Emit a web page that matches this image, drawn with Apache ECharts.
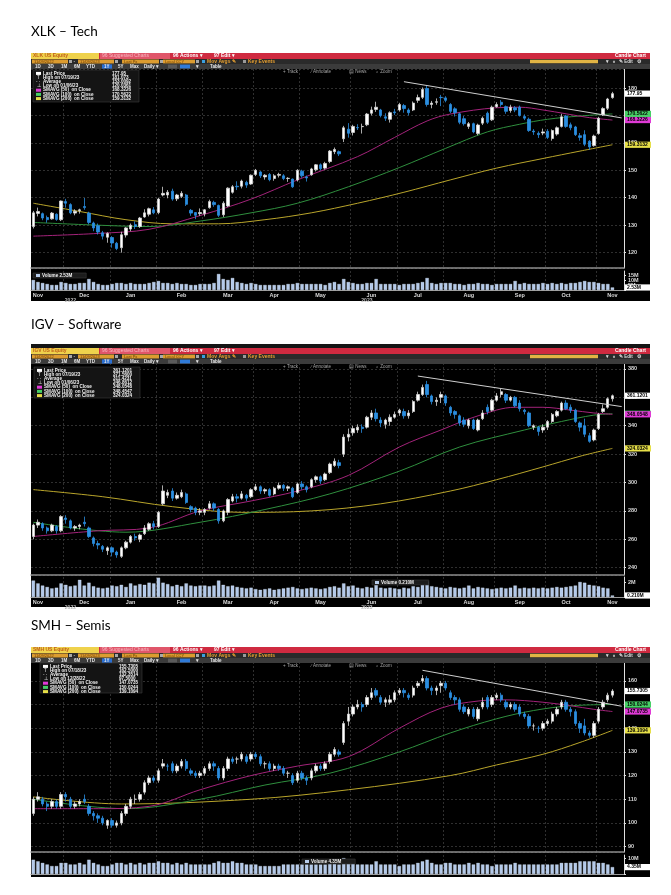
<!DOCTYPE html>
<html>
<head>
<meta charset="utf-8">
<title>XLK / IGV / SMH</title>
<script src="https://cdn.jsdelivr.net/npm/echarts@6/dist/echarts.min.js"></script>
<style>
  html, body { margin: 0; padding: 0; background: #fff; }
  #chart { width: 671px; height: 895px; }
</style>
</head>
<body>
<div id="chart"></div>
<script>
// one candle = 2 trading days, 10 Nov 2022 .. 9 Nov 2023 (126 candles, 2 empty slots on the right)
const slots = 128;
const monthNames = ['Nov', 'Dec', 'Jan', 'Feb', 'Mar', 'Apr', 'May', 'Jun', 'Jul', 'Aug', 'Sep', 'Oct', 'Nov'];
const monthLabelIdx = [1, 11, 21, 32, 42, 52, 62, 73, 83, 94, 105, 115, 125];
const monthStartIdx = [7, 17, 27, 37, 48, 58, 69, 79, 89, 100, 111, 122];
const yearNames = ['2022', '2023'];
const yearLabelIdx = [8, 72];

// ---- XLK  [open, close, low, high]
const xlkCandles = [
  [129.5,134.5,128.8,135.2],[134.3,135.0,133.2,136.4],[134.2,132.6,131.8,134.6],[132.8,132.0,130.9,133.5],[132.3,134.4,132.0,134.8],[134.0,132.1,131.6,134.3],[132.0,138.8,131.5,139.0],
  [138.6,138.0,136.4,139.6],[137.5,134.5,134.0,138.0],[134.4,135.1,133.6,135.8],[135.3,135.6,134.2,136.0],[136.8,136.4,135.6,139.9],[134.4,131.0,130.3,134.9],[130.8,129.0,127.8,131.3],[129.8,127.5,126.6,130.6],[127.2,126.0,124.8,127.9],[125.6,127.0,123.6,127.4],
  [125.5,123.5,121.8,126.0],[123.4,121.5,120.9,123.9],[121.8,126.5,120.0,127.6],[126.4,129.0,125.5,129.3],[128.6,130.0,127.8,130.6],[130.2,129.5,128.6,131.4],[129.5,132.6,129.0,133.0],[133.0,134.5,132.7,135.8],[134.0,136.0,133.2,136.4],[135.6,134.5,134.0,136.6],
  [134.6,139.5,134.0,140.0],[141.0,141.6,140.5,144.0],[141.0,142.0,139.8,142.8],[142.4,139.5,138.9,143.3],[139.6,141.0,138.8,141.4],[140.5,141.6,139.9,142.4],[141.0,137.6,137.0,141.4],[135.4,134.4,133.4,135.9],[134.6,133.6,132.2,134.8],[134.2,134.6,133.4,136.1],
  [134.2,135.6,133.2,135.9],[136.4,138.6,136.0,139.3],[138.3,137.5,136.7,138.9],[137.2,133.6,133.0,137.5],[133.8,138.0,133.0,138.7],[137.0,143.5,136.6,143.8],[142.0,144.0,141.5,144.6],[144.2,144.0,142.8,146.0],[144.2,146.1,143.4,146.6],[145.6,144.6,143.6,146.2],[145.0,148.2,144.7,148.5],
  [148.5,150.0,147.9,150.5],[149.4,148.0,147.2,149.7],[147.6,148.2,146.6,148.6],[148.5,146.6,146.0,149.0],[147.0,148.0,146.2,148.6],[148.2,148.5,147.4,149.1],[148.0,147.0,146.4,148.6],[147.0,147.1,145.8,147.5],[146.8,144.0,143.6,147.0],[146.5,150.0,145.9,150.4],
  [149.7,148.0,147.3,150.2],[147.6,147.2,145.9,148.1],[148.4,150.5,148.0,150.9],[150.2,152.0,149.6,152.3],[152.0,150.6,150.0,152.5],[150.8,152.5,150.3,153.1],[153.2,157.0,152.6,157.4],[156.8,157.6,155.9,158.3],[156.8,156.0,155.2,157.2],[161.5,165.5,160.3,166.2],[165.0,163.5,161.9,167.2],
  [163.8,166.0,162.7,166.6],[165.6,165.5,164.7,166.8],[165.9,166.0,163.4,167.0],[166.6,170.5,166.1,170.9],[170.8,172.0,170.0,173.2],[172.2,173.0,171.3,175.0],[172.0,170.0,169.3,172.4],[169.5,169.0,168.0,170.8],[168.6,171.0,167.4,171.5],[171.3,171.0,170.2,172.4],
  [172.0,174.0,171.4,174.6],[173.6,172.5,171.0,174.2],[172.0,171.0,170.0,172.6],[172.0,174.5,171.6,175.1],[175.5,176.5,174.6,177.6],[176.6,179.5,176.0,180.2],[179.8,174.0,173.2,181.1],[174.0,174.5,172.6,175.3],[174.8,175.0,173.9,176.2],[176.6,176.5,173.4,177.5],
  [176.4,175.5,174.8,177.0],[174.0,171.5,170.8,174.5],[172.4,171.0,169.6,173.0],[170.6,167.5,166.8,171.0],[168.8,167.0,166.3,169.8],[166.0,167.0,165.1,167.6],[167.0,164.0,163.5,167.4],[163.4,166.5,162.8,167.0],[167.2,169.0,166.5,169.6],[170.8,167.5,166.9,171.4],[168.4,173.0,168.0,173.6],
  [173.2,174.0,172.8,174.8],[174.8,174.0,173.2,175.6],[173.2,171.5,170.6,173.6],[171.8,173.0,171.0,173.9],[172.8,172.0,171.2,173.4],[173.0,170.0,169.6,173.6],[169.6,169.0,168.3,170.4],[168.6,164.5,164.0,169.2],[164.3,164.0,162.9,165.0],[163.5,163.0,161.8,164.2],
  [163.6,164.0,162.8,165.2],[164.2,162.0,161.4,165.0],[161.6,164.5,160.8,164.9],[163.2,165.5,162.6,166.0],[166.0,169.5,165.6,170.6],[169.8,166.0,165.5,170.2],[166.6,165.5,164.6,167.4],[165.8,163.0,162.5,166.2],[162.6,162.0,160.8,163.6],[163.0,159.5,158.8,164.6],[160.6,158.5,157.4,161.0],
  [159.0,162.5,158.6,163.0],[163.4,169.0,163.0,169.5],[170.2,172.5,169.8,173.0],[172.6,176.0,172.0,176.4],[176.5,177.95,176.1,178.6]
];
const xlkVolume = [
  10,8,7,6,5,5,8,
  7,6,6,7,7,11,8,6,5,5,
  6,7,7,6,7,6,6,6,7,8,
  9,7,7,6,7,6,6,5,5,6,
  6,6,7,16,11,10,12,8,7,6,7,
  6,5,5,5,5,5,5,6,6,7,
  6,6,6,6,6,5,7,8,6,11,8,
  7,6,6,7,7,11,6,6,6,6,
  5,6,6,6,7,8,12,7,6,7,
  7,7,6,6,5,6,6,7,6,6,5,
  6,6,6,6,9,6,7,6,6,6,
  7,6,7,6,7,6,7,7,8,9,8,
  8,7,6,6,2.53
];
const xlkSma50 = [[0,126],[14,127],[25,128.5],[36,133.5],[47,139.5],[57,146.5],[70,155],[78,162],[85,168],[90,170.5],[100,172.8],[105,173],[110,172],[115,170.6],[120,169.2],[125,168.3226]];
const xlkSma100 = [[0,131],[14,130],[25,129.5],[36,131.5],[47,134.5],[57,138],[68,144],[79,151],[89,158],[98,164],[105,166.8],[111,168.6],[118,169.8],[125,170.5622]];
const xlkSma200 = [[0,138],[10,135],[20,132],[30,130.5],[40,130.5],[50,132],[60,134.5],[70,138],[80,142],[90,146.5],[100,150.8],[110,154.3],[118,157],[125,159.3132]];
const xlkTrend = [[80,182.3],[127,169.1]];
const xlkLegendNames = ['Last Price', 'High on 07/19/23', 'Average', 'Low on 01/06/23', 'SMAVG (50)  on Close', 'SMAVG (100)  on Close', 'SMAVG (200)  on Close'];
const xlkLegendValues = ['177.95', '181.073', '153.0092', '120.0361', '168.3226', '170.5622', '159.3132'];

// ---- IGV
const igvCandles = [
  [262,270,260,271],[270,272,268,274],[271,268,266,272],[268,266,264,269],[266,270,265,271],[269,266,264,270],[266,276,265,277],
  [275,274,271,277],[273,268,267,274],[268,269,266,270],[269,270,267,271],[272,271,269,276],[268,262,261,269],[261,257,255,262],[257,256,253,259],[255,253,251,256],[252,254,249,255],
  [254,251,248,255],[251,249,247,252],[248,254,246.9,255],[254,258,253,259],[258,262,257,263],[262,261,259,264],[260,263,258,264],[264,268,263,270],[267,271,266,272],[271,269,267,273],
  [269,279,268,280],[285,294,284,298],[291,293,289,295],[294,289,287,296],[289,291,288,293],[290,293,289,295],[292,286,285,293],[283,281,279,284],[282,279,277,283],[279,280,277,282],
  [279,281,277,282],[282,285,281,287],[285,282,280,286],[281,273,271,282],[273,280,272,281],[279,288,277,289],[287,290,286,292],[290,289,286,292],[289,292,288,294],[291,289,287,292],[290,295,289,296],
  [295,297,294,299],[297,294,292,298],[294,295,292,296],[295,291,290,296],[292,296,291,297],[296,298,295,300],[298,296,294,299],[296,297,294,298],[296,290,289,297],[293,299,292,300],
  [299,297,295,301],[297,295,293,298],[297,302,296,303],[302,304,300,305],[304,301,299,305],[302,306,301,307],[307,313,306,314],[312,315,311,317],[314,312,310,316],[320,332,318,334],[332,334,329,338],
  [335,338,333,340],[337,339,335,341],[339,338,335,341],[339,346,338,347],[346,349,344,351],[349,345,343,352],[344,342,339,346],[341,344,338,345],[343,346,340,348],[346,348,345,350],
  [349,351,347,352],[350,347,345,352],[347,349,345,351],[350,357,349,358],[358,362,357,364],[362,367,361,369],[369,362,360,371.6],[361,357,355,362],[357,358,354,360],[360,362,356,364],
  [361,356,354,362],[353,349,347,354],[350,348,345,351],[347,342,340,348],[344,341,339,346],[340,344,338,345],[344,338,337,345],[337,344,336,345],[345,349,344,351],[353,350,348,355],[351,358,350,359],
  [358,361,357,363],[362,364,360,366],[362,358,356,363],[358,360,357,361],[360,354,353,361],[356,352,350,358],[351,350,348,352],[349,340,339,350],[339,340,337,341],[339,336,333,340],
  [337,339,335,341],[339,343,337,344],[343,348,342,349],[347,350,346,351],[351,356,350,357],[356,352,351,358],[353,351,349,355],[351,343,342,352],[342,339,336,343],[340,334,332,345],[333,329,328,335],
  [330,337,329,338],[338,348,337,349],[350,352,349,355],[353,359,352,360],[359,361.12,357,362]
];
const igvVolume = [
  2.3,1.9,1.6,1.4,1.2,1.3,1.9,
  1.7,1.5,1.6,2.4,1.6,2.0,1.5,1.3,1.2,1.3,
  1.6,1.5,1.7,1.4,1.9,1.6,1.8,1.7,2.0,1.9,
  2.7,2.0,1.8,1.5,1.7,1.5,1.9,1.6,1.5,1.6,
  1.6,1.5,1.6,2.3,1.7,1.5,1.6,1.4,1.3,1.2,1.3,
  1.1,1.0,1.1,1.2,1.0,1.1,1.2,1.3,1.4,1.2,
  1.1,1.2,1.3,1.2,1.1,1.2,1.4,1.5,1.3,1.9,1.5,
  1.6,1.3,1.2,1.4,1.3,1.7,1.3,1.2,1.3,1.2,
  1.1,1.3,1.2,1.5,1.4,1.9,2.2,1.5,1.4,1.3,
  1.2,1.4,1.3,1.2,1.3,1.6,1.2,1.4,1.3,1.2,1.1,
  1.2,1.3,1.2,1.3,1.6,1.2,1.3,1.2,1.3,1.2,
  1.3,1.2,1.3,1.4,1.3,1.4,1.5,1.6,2.1,2.0,1.7,
  1.6,1.5,1.3,1.2,0.21
];
const igvSma50 = [[0,262],[14,266],[25,268],[36,280],[47,287],[57,294],[68,305],[79,325],[88,337],[96,347],[104,353],[110,353],[116,351],[121,349],[125,348.0548]];
const igvSma100 = [[0,272],[20,265],[36,272],[50,281],[64,292],[79,308],[92,325],[106,337],[114,343],[121,347.5],[125,348.4547]];
const igvSma200 = [[0,295],[15,290],[30,283],[45,279],[60,280],[75,285],[90,294],[100,302],[110,311],[118,318.5],[125,324.0324]];
const igvTrend = [[83,375],[127,353.5]];
const igvLegendNames = ['Last Price', 'High on 07/19/23', 'Average', 'Low on 01/06/23', 'SMAVG (50)  on Close', 'SMAVG (100)  on Close', 'SMAVG (200)  on Close'];
const igvLegendValues = ['361.1201', '371.5600', '311.4231', '246.8612', '348.0548', '348.4547', '324.0324'];

// ---- SMH
const smhCandles = [
  [104,110,103,111],[110,111,109,113],[110,108,107,111],[108,107,105,109],[107,109,106,110],[109,107,106,110],[107,112,106,113],
  [112,111,109,113],[110,107,106,111],[107,108,106,109],[108,109,107,110],[110,109,108,112],[107,104,103,108],[104,103,101,105],[103,102,100,104],[102,100,99,103],[99,101,97.5,101.5],
  [101,99,98,102],[99,100,98,101],[100,104,99,105],[104,107,103,108],[107,110,106,111],[110,110,108,112],[110,112,109,113],[113,117,112,118],[117,119,116,120],[119,118,117,120],
  [118,122,117,123],[124,125,123,127],[124,124,122,125],[125,122,121,126],[122,124,121,125],[124,126,123,127],[126,123,122,127],[122,121,120,123],[121,120,119,122],[120,121,119,122],
  [121,123,120,124],[123,125,122,126],[125,124,122,126],[123,119,118,124],[119,123,118,124],[123,127,122,128],[127,126,125,128],[127,127,125,128],[127,129,126,130],[128,126,125,129],[127,129,126,130],
  [129,128,127,130],[128,125,124,129],[125,125,123,126],[125,123,122,126],[123,124,122,125],[124,123,122,125],[123,121,120,124],[121,121,119,122],[120,117,116,121],[118,121,117,122],
  [121,119,118,122],[119,118,116,120],[119,122,118,123],[122,124,121,125],[124,123,122,125],[123,125,122,126],[126,129,125,130],[129,131,128,132],[130,129,128,131],[134,142,133,143],[143,146,141,149],
  [146,149,145,150],[149,150,148,152],[150,149,147,151],[150,153,149,154],[153,155,152,157],[156,154,153,157],[153,151,150,154],[151,152,149,153],[151,152,150,154],[152,155,151,156],
  [155,156,154,157],[156,155,153,157],[154,153,152,155],[154,157,153,158],[158,159,157,160],[160,161,159,162.5],[161,157,156,162],[157,156,154,158],[156,157,154,158],[158,159,155,160],
  [159,157,156,160],[155,153,152,156],[153,152,150,154],[152,148,147,153],[149,147,146,150],[146,148,145,149],[148,145,144,149],[144,148,143,149],[149,151,148,153],[153,149,148,154],[150,153,149,154],
  [153,154,152,155],[154,152,151,155],[151,149,148,152],[149,150,148,151],[150,148,147,151],[149,146,145,150],[146,145,144,147],[145,141,140,146],[141,141,139,142],[140,140,138,141],
  [140,142,139,143],[142,143,141,144],[143,146,142,147],[146,148,145,149],[149,151,148,152],[151,148,147,152],[148,147,145,149],[147,142,141,148],[142,140,138,143],[141,138,137,144],[138,137,136,139],
  [137,142,136,143],[143,148,142,149],[149,151,148,152],[152,154,151,155],[154,155.73,153,156.5]
];
const smhVolume = [
  9,8,7,6,5,5,7,
  7,6,6,7,6,9,7,6,5,5,
  6,7,7,6,7,6,7,6,7,7,
  8,7,7,6,7,6,7,6,6,6,
  6,6,7,8,7,7,8,7,7,6,6,
  6,5,5,5,5,5,6,6,6,6,
  6,6,6,6,6,6,7,7,6,10,8,
  7,6,6,6,6,8,6,6,6,6,
  5,6,6,6,7,8,9,7,6,6,
  7,7,6,6,6,7,6,7,6,6,5,
  6,6,6,6,7,6,6,6,6,6,
  6,6,6,6,7,7,7,7,8,8,8,
  8,7,7,6,4.35
];
const smhSma50 = [[0,106],[14,106],[25,107],[36,114],[47,120],[57,124],[68,128],[79,140],[88,148.5],[96,151.5],[102,152],[110,151],[116,149.5],[121,148],[125,147.0735]];
const smhSma100 = [[0,110],[20,106],[36,110],[50,116],[64,121],[79,130],[90,138],[100,144],[108,147.5],[116,149.5],[125,150.0244]];
const smhSma200 = [[0,111],[19,108],[47,110],[68,114],[90,120],[100,124.5],[110,129],[118,134],[125,139.1094]];
const smhTrend = [[84,164.5],[127,149.3]];
const smhLegendNames = ['Last Price', 'High on 07/18/23', 'Average', 'Low on 12/28/22', 'SMAVG (50)  on Close', 'SMAVG (100)  on Close', 'SMAVG (200)  on Close'];
const smhLegendValues = ['155.7305', '162.5000', '132.3514', '97.5000', '147.0735', '150.0244', '139.1094'];

// ---- layout of the three Bloomberg windows
const panels = [
  { title: 'XLK – Tech', titleTop: 25, ticker: 'XLK', head: 53, priceTop: 69, priceH: 199, volTop: 271, volH: 19, bottom: 301,
    yMin: 114.39, yMax: 186.93, ySplit: 7, volMax: 19, volStep: 5, dates: true,
    legendBox: [33, 70, 106, 32], volLegend: [33, 273, 'Volume 2.53M'], volBox: '2.53M',
    candles: xlkCandles, vol: xlkVolume, sma50: xlkSma50, sma100: xlkSma100, sma200: xlkSma200, trend: xlkTrend,
    names: xlkLegendNames, values: xlkLegendValues },
  { title: 'IGV – Software', titleTop: 318, ticker: 'IGV', head: 348, strip: true, priceTop: 363, priceH: 212, volTop: 577, volH: 20, bottom: 607,
    yMin: 234.86, yMax: 384.2, ySplit: 7, volMax: 2.8, volStep: 2, dates: true,
    legendBox: [34, 367, 106, 31], volLegend: [372, 580, 'Volume 0.210M'], volBox: '0.210M',
    candles: igvCandles, vol: igvVolume, sma50: igvSma50, sma100: igvSma100, sma200: igvSma200, trend: igvTrend,
    names: igvLegendNames, values: igvLegendValues },
  { title: 'SMH – Semis', titleTop: 619, ticker: 'SMH', head: 647, priceTop: 662, priceH: 190, volTop: 855, volH: 19, bottom: 877,
    yMin: 87.7, yMax: 168.0, ySplit: 8, volMax: 12, volStep: 5, dates: false,
    legendBox: [40, 663, 102, 30], volLegend: [302, 859, 'Volume 4.35M'], volBox: '4.35M',
    candles: smhCandles, vol: smhVolume, sma50: smhSma50, sma100: smhSma100, sma200: smhSma200, trend: smhTrend,
    names: smhLegendNames, values: smhLegendValues }
];

const UP = '#ffffff', DOWN = '#2b8ee0';
const SMA50 = '#a3237a', SMA100 = '#2f8f3e', SMA200 = '#b9a52b';
const BOX50 = '#e03ad6', BOX100 = '#46d066', BOX200 = '#e6df48';
const FONT = 'Liberation Sans';
const cats = Array.from({ length: slots }, (_, i) => String(i));

function txt(x, y, text, fill, size, o) {
  o = o || {};
  return {
    type: 'text', x: x, y: y, z: o.z || 110,
    style: {
      text: text, fill: fill, fontSize: size, fontFamily: FONT,
      fontWeight: o.bold ? 'bold' : 'normal',
      align: o.align || 'left', textAlign: o.align || 'left',
      verticalAlign: 'middle', textVerticalAlign: 'middle'
    }
  };
}
function rect(x, y, w, h, fill, z, stroke) {
  return {
    type: 'rect', z: z === undefined ? 105 : z,
    shape: { x: x, y: y, width: w, height: h },
    style: { fill: fill, stroke: stroke || null, lineWidth: stroke ? 0.6 : 0 }
  };
}

// window chrome: header bars, buttons, legend boxes
function chrome(p) {
  const y = p.head, g = [];
  g.push(rect(31, y + 16, 619, p.bottom - y - 16, '#000', -100));
  if (p.strip) g.push(rect(31, y - 4, 619, 4, '#141414', 104));
  // red title bar
  g.push(rect(31, y, 619, 6, '#cf2a40'));
  g.push(rect(31, y, 68, 6, '#efd24c', 106));
  g.push(txt(33, y + 3, p.ticker + ' US Equity', '#c0601a', 5, { bold: true }));
  g.push(rect(100, y, 70, 6, '#e0566a', 106));
  g.push(txt(102, y + 3, '96 Suggested Charts', '#f7b8c0', 5));
  g.push(txt(173, y + 3, '96 Actions \u25BE', '#ffffff', 5, { bold: true }));
  g.push(txt(214, y + 3, '97 Edit \u25BE', '#ffffff', 5, { bold: true }));
  g.push(txt(646, y + 3, 'Candle Chart', '#ffffff', 5, { bold: true, align: 'right' }));
  // second row: inputs
  g.push(rect(31, y + 6, 619, 5, '#2a2a2a'));
  [[32, 36, '11/09/2022'], [78, 36, '11/09/2023'], [122, 37, 'Last Px'], [163, 32, 'Local CCY']].forEach(b => {
    g.push(rect(b[0], y + 6.6, b[1], 3.8, '#dc9c30', 106));
    g.push(txt(b[0] + 2, y + 8.5, b[2], '#6a3a00', 4, { z: 111 }));
    g.push(rect(b[0] + b[1] + 1, y + 7, 3, 3, '#a8a8a8', 106));
  });
  g.push(txt(73.5, y + 8.5, '-', '#dddddd', 5));
  g.push(rect(202, y + 7, 3, 3, '#3aa0e0', 106));
  g.push(txt(207, y + 8.5, 'Mov Avgs \u270E', '#e8a030', 5, { bold: true }));
  g.push(rect(243, y + 7, 3, 3, '#9a9a9a', 106));
  g.push(txt(248, y + 8.5, 'Key Events', '#e8a030', 5, { bold: true }));
  g.push(rect(530, y + 6.7, 68, 3.6, '#e2b444', 106));
  g.push(txt(606, y + 8.5, '\u25BE   \u00AB   \u270E Edit   \u2699', '#dddddd', 4.5, { bold: true }));
  // third row: ranges
  g.push(rect(31, y + 11, 619, 5, '#3b3b3b'));
  g.push(rect(102, y + 11.4, 10, 4.2, '#2a6fd2', 106));
  g.push(rect(168, y + 11.6, 9, 3.8, '#5a5a5a', 106));
  g.push(rect(180, y + 11.6, 10, 3.8, '#2f7ad8', 106));
  [[35, '1D'], [48, '3D'], [61, '1M'], [74, '6M'], [86, 'YTD'], [104, '1Y'], [118, '5Y'], [130, 'Max'], [144, 'Daily \u25BE'], [196, '\u25BE'], [210, 'Table']].forEach(b => {
    g.push(txt(b[0], y + 13.5, b[1], '#e6e6e6', 4.5, { bold: true }));
  });
  // annotate row
  [[283, '+ Track'], [311, '\u2215 Annotate'], [349, '\u25A4 News'], [376, '\u2315 Zoom']].forEach(b => {
    g.push(txt(b[0], y + 19, b[1], '#a8a8a8', 4.5, { z: 60 }));
  });
  // price legend
  const lb = p.legendBox;
  g.push(rect(lb[0], lb[1], lb[2], lb[3], '#141414', 50, '#3a3a3a'));
  const icons = ['#ffffff', null, null, null, BOX50, BOX100, BOX200];
  p.names.forEach((n, i) => {
    const ry = lb[1] + 3.4 + i * 4.2;
    if (icons[i]) g.push(rect(lb[0] + 3, ry - 1.5, 5, 3, icons[i], 51));
    else if (i === 2) g.push(txt(lb[0] + 3, ry, '- -', '#cccccc', 4.5, { z: 51 }));
    else g.push(txt(lb[0] + 4, ry, i === 1 ? 'T' : '\u22A5', '#bbbbbb', 4.5, { z: 51, bold: true }));
    g.push(txt(lb[0] + 10, ry, n, '#f0f0f0', 4.6, { z: 51, bold: true }));
    g.push(txt(lb[0] + 79, ry, p.values[i], '#f0f0f0', 4.6, { z: 51, bold: true }));
  });
  // volume legend
  const vl = p.volLegend;
  g.push(rect(vl[0], vl[1], vl[2].length * 3.6 + 10, 5, '#1c1c1c', 50, '#3a3a3a'));
  g.push(rect(vl[0] + 3, vl[1] + 1, 4, 3, '#b8cdec', 51));
  g.push(txt(vl[0] + 9, vl[1] + 2.6, vl[2], '#f0f0f0', 4.6, { z: 51, bold: true }));
  return g;
}

// value tag on the right axis, drawn as a transparent markLine with an end label
function valueBox(v, text, bg) {
  return {
    yAxis: v,
    label: {
      show: true, position: 'end', distance: 1, formatter: text,
      backgroundColor: bg, color: '#000', fontSize: 5, fontFamily: FONT, fontWeight: 'bold',
      padding: [0.8, 2, 0.4, 2], width: 22
    }
  };
}

const title = [], grid = [], xAxis = [], yAxis = [], series = [];
let graphic = [];

panels.forEach((p, k) => {
  title.push({ text: p.title, left: 31, top: p.titleTop, padding: 0,
    textStyle: { fontFamily: 'Lato', fontSize: 13.5, fontWeight: 'normal', color: '#000' } });
  graphic = graphic.concat(chrome(p));

  grid.push({ left: 31, right: 47, top: p.priceTop, height: p.priceH });
  grid.push({ left: 31, right: 47, top: p.volTop, height: p.volH });

  const vLines = { show: true, interval: (i) => monthStartIdx.indexOf(i) >= 0, lineStyle: { color: '#3c3c3c', type: [2, 2], width: 0.8 } };
  xAxis.push({ type: 'category', gridIndex: 2 * k, data: cats, boundaryGap: true,
    axisLine: { show: true, lineStyle: { color: '#8c8c8c', width: 1.5 } },
    axisTick: { show: false }, axisLabel: { show: false }, splitLine: vLines });
  xAxis.push({ type: 'category', gridIndex: 2 * k + 1, data: cats, boundaryGap: true,
    axisLine: { show: true, lineStyle: { color: '#9a9a9a', width: 1 } },
    axisTick: { show: false }, splitLine: vLines,
    axisLabel: { show: p.dates, interval: (i) => monthLabelIdx.indexOf(i) >= 0, margin: 2,
      formatter: (v) => monthNames[monthLabelIdx.indexOf(Number(v))] || '',
      color: '#d8d8d8', fontSize: 5.5, fontFamily: FONT, fontWeight: 'bold' } });
  xAxis.push({ type: 'category', gridIndex: 2 * k + 1, data: cats, boundaryGap: true, position: 'bottom', offset: 6,
    axisLine: { show: false }, axisTick: { show: false }, splitLine: { show: false },
    axisLabel: { show: p.dates, interval: (i) => yearLabelIdx.indexOf(i) >= 0, margin: 2,
      formatter: (v) => yearNames[yearLabelIdx.indexOf(Number(v))] || '',
      color: '#b8b8b8', fontSize: 5, fontFamily: FONT, fontWeight: 'bold' } });

  yAxis.push({ type: 'value', gridIndex: 2 * k, position: 'right', min: p.yMin, max: p.yMax, splitNumber: p.ySplit,
    axisLine: { show: true, lineStyle: { color: '#e0e0e0', width: 1 } },
    axisTick: { show: true, length: 2, lineStyle: { color: '#e0e0e0' } },
    axisLabel: { showMinLabel: false, showMaxLabel: false, margin: 4, color: '#d8d8d8', fontSize: 5.5, fontFamily: FONT, fontWeight: 'bold' },
    splitLine: { show: true, lineStyle: { color: '#3c3c3c', type: [2, 2], width: 0.8 } } });
  yAxis.push({ type: 'value', gridIndex: 2 * k + 1, position: 'right', min: 0, max: p.volMax, interval: p.volStep,
    axisLine: { show: true, lineStyle: { color: '#e0e0e0', width: 1 } },
    axisTick: { show: true, length: 2, lineStyle: { color: '#e0e0e0' } },
    axisLabel: { showMaxLabel: false, margin: 4, formatter: (v) => (v === 0 ? '' : v + 'M'), color: '#d8d8d8', fontSize: 5.5, fontFamily: FONT, fontWeight: 'bold' },
    splitLine: { show: false } });

  const xi = 3 * k, yi = 2 * k;
  series.push({
    type: 'candlestick', xAxisIndex: xi, yAxisIndex: yi, data: p.candles, barWidth: '62%', z: 4, clip: false,
    itemStyle: { color: UP, color0: DOWN, borderColor: '#d4d4d4', borderColor0: DOWN, borderWidth: 0.8 },
    markLine: {
      silent: true, symbol: 'none', animation: false, z: 20,
      lineStyle: { color: 'rgba(0,0,0,0)', width: 1, type: 'solid' },
      data: [
        valueBox(Number(p.values[0]), p.values[0], '#ffffff'),
        valueBox(Number(p.values[5]), p.values[5], BOX100),
        valueBox(Number(p.values[4]), p.values[4], BOX50),
        valueBox(Number(p.values[6]), p.values[6], BOX200)
      ]
    }
  });
  [[p.sma200, SMA200], [p.sma100, SMA100], [p.sma50, SMA50]].forEach(s => {
    series.push({ type: 'line', xAxisIndex: xi, yAxisIndex: yi, data: s[0], smooth: 0.35, showSymbol: false, z: 3,
      lineStyle: { color: s[1], width: 1 } });
  });
  series.push({ type: 'line', xAxisIndex: xi, yAxisIndex: yi, data: p.trend, showSymbol: false, z: 5,
    lineStyle: { color: '#cfcfcf', width: 1 } });
  series.push({
    type: 'bar', xAxisIndex: xi + 1, yAxisIndex: yi + 1, data: p.vol, barWidth: '72%', clip: false,
    itemStyle: { color: '#b3c9ea', borderColor: '#e8f0fb', borderWidth: 0.3 },
    markLine: {
      silent: true, symbol: 'none', animation: false, z: 20,
      lineStyle: { color: 'rgba(0,0,0,0)', width: 1, type: 'solid' },
      data: [valueBox(p.vol[p.vol.length - 1], p.volBox, '#ffffff')]
    }
  });
});

const chart = echarts.init(document.getElementById('chart'));
chart.setOption({
  animation: false,
  backgroundColor: '#ffffff',
  title: title,
  grid: grid,
  xAxis: xAxis,
  yAxis: yAxis,
  series: series,
  graphic: { elements: graphic }
});
</script>
</body>
</html>
